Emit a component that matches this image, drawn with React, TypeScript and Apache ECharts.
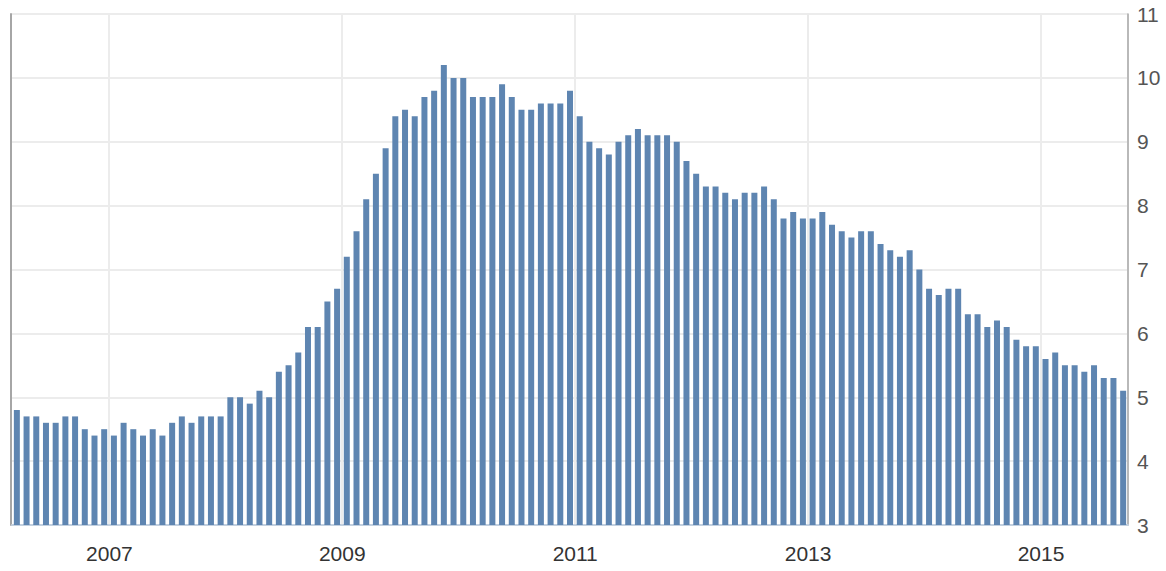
import React, { useEffect, useRef } from "react";
import * as echarts from "echarts";

// Monthly values, Feb 2006 – Aug 2015
const startYear = 2006;
const startMonth = 2;
const values: number[] = [
  // 2006 (Feb–Dec)
  4.8, 4.7, 4.7, 4.6, 4.6, 4.7, 4.7, 4.5, 4.4, 4.5, 4.4,
  // 2007
  4.6, 4.5, 4.4, 4.5, 4.4, 4.6, 4.7, 4.6, 4.7, 4.7, 4.7, 5.0,
  // 2008
  5.0, 4.9, 5.1, 5.0, 5.4, 5.5, 5.7, 6.1, 6.1, 6.5, 6.7, 7.2,
  // 2009
  7.6, 8.1, 8.5, 8.9, 9.4, 9.5, 9.4, 9.7, 9.8, 10.2, 10.0, 10.0,
  // 2010
  9.7, 9.7, 9.7, 9.9, 9.7, 9.5, 9.5, 9.6, 9.6, 9.6, 9.8, 9.4,
  // 2011
  9.0, 8.9, 8.8, 9.0, 9.1, 9.2, 9.1, 9.1, 9.1, 9.0, 8.7, 8.5,
  // 2012
  8.3, 8.3, 8.2, 8.1, 8.2, 8.2, 8.3, 8.1, 7.8, 7.9, 7.8, 7.8,
  // 2013
  7.9, 7.7, 7.6, 7.5, 7.6, 7.6, 7.4, 7.3, 7.2, 7.3, 7.0, 6.7,
  // 2014
  6.6, 6.7, 6.7, 6.3, 6.3, 6.1, 6.2, 6.1, 5.9, 5.8, 5.8, 5.6,
  // 2015 (Jan–Aug)
  5.7, 5.5, 5.5, 5.4, 5.5, 5.3, 5.3, 5.1,
];

const categories: string[] = values.map((_, i) => {
  const m0 = startMonth - 1 + i;
  const y = startYear + Math.floor(m0 / 12);
  const m = (m0 % 12) + 1;
  return `${y}-${m < 10 ? "0" + m : m}`;
});

// Year-marker months: December of even years, labelled with the following year
const isMarker = (cat: string | undefined) => {
  if (!cat) return false;
  const [y, m] = cat.split("-").map(Number);
  return m === 12 && y % 2 === 0;
};

const FONT = "'Liberation Sans', Arial, Helvetica, sans-serif";

export default function App() {
  const ref = useRef<HTMLDivElement>(null);
  useEffect(() => {
    if (!ref.current) return;
    const chart = echarts.init(ref.current, undefined, { renderer: "svg" });
    chart.setOption({
      animation: false,
      backgroundColor: "#ffffff",
      grid: { left: 12, right: 38, top: 14, bottom: 46, containLabel: false },
      xAxis: {
        type: "category",
        data: categories,
        boundaryGap: true,
        axisLine: { show: true, lineStyle: { color: "#c3d0df", width: 2 } },
        axisTick: { show: false },
        splitLine: {
          show: true,
          interval: (_i: number, v: string) => isMarker(v),
          lineStyle: { color: "#ececec", width: 2 },
        },
        axisLabel: {
          interval: (_i: number, v: string) => isMarker(v),
          formatter: (v: string) => String(Number(v.split("-")[0]) + 1),
          color: "#333333",
          fontSize: 21,
          fontFamily: FONT,
          margin: 18,
          padding: [0, 9, 0, 0],
        },
      },
      yAxis: [
        {
          type: "value",
          position: "right",
          min: 3,
          max: 11,
          interval: 1,
          axisLine: { show: true, lineStyle: { color: "#a8a8a8", width: 1.5 } },
          axisTick: { show: false },
          splitLine: { show: true, lineStyle: { color: "#ececec", width: 2 } },
          axisLabel: {
            color: "#555555",
            fontSize: 21,
            fontFamily: FONT,
            margin: 9,
          },
        },
        {
          type: "value",
          position: "left",
          offset: 1.5,
          min: 3,
          max: 11,
          interval: 1,
          axisLine: { show: true, lineStyle: { color: "#a6a6a6", width: 2 } },
          axisTick: { show: false },
          splitLine: { show: false },
          axisLabel: { show: false },
        },
      ],
      series: [
        {
          type: "bar",
          data: values,
          barWidth: 6,
          yAxisIndex: 0,
          itemStyle: { color: "#5e85b1" },
        },
      ],
    });
    return () => chart.dispose();
  }, []);
  return (
    <div
      ref={ref}
      style={{ position: "fixed", left: 0, top: 0, width: 1166, height: 571 }}
    />
  );
}
